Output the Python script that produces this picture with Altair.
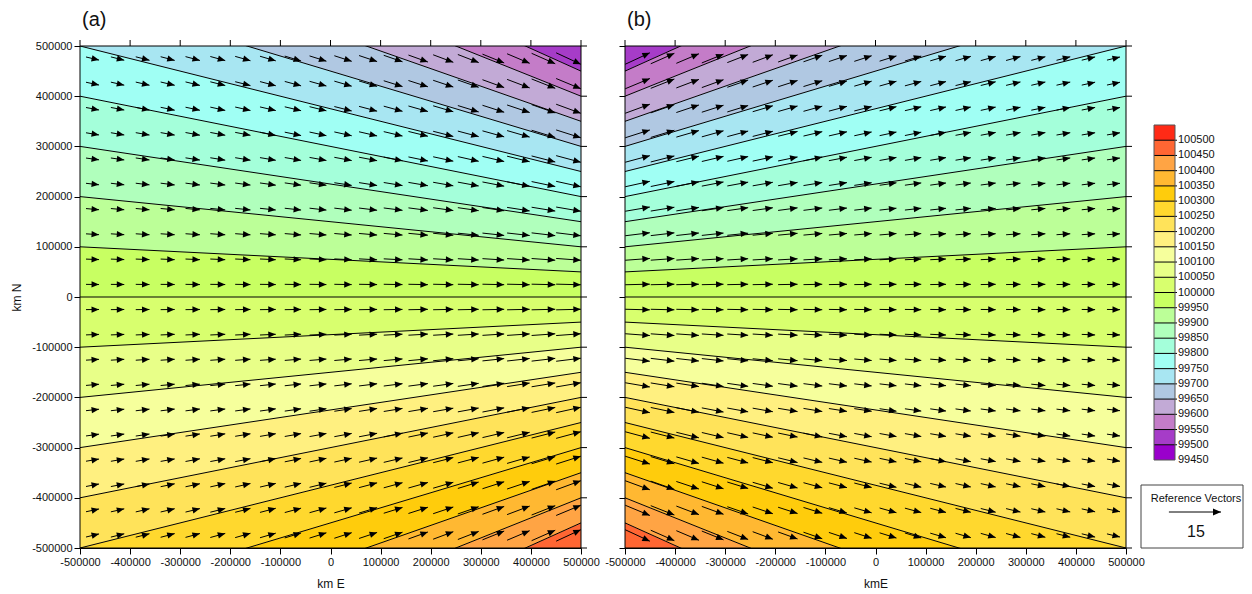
import math
import altair as alt
import pandas as pd

# ---------------- data ----------------
# contour levels (Pa), listed from the bottom line to the top line
contour_levels = [100500, 100450, 100400, 100350, 100300, 100250, 100200, 100150,
                  100100, 100050, 100000, 99950, 99900, 99850, 99800, 99750,
                  99700, 99650, 99600, 99550, 99500]
# y where each contour line meets the left / right edge in panel (a)
a_left_y = [-1000000, -900000, -800000, -700000, -600000, -500000, -400000,
            -300000, -200000, -100000, 0, 100000, 200000, 300000, 400000,
            500000, 600000, 700000, 800000, 900000, 1000000]
a_right_y = [-500000, -450000, -400000, -350000, -300000, -250000, -200000,
             -150000, -100000, -50000, 0, 50000, 100000, 150000, 200000,
             250000, 300000, 350000, 400000, 450000, 500000]
# panel (b) is the mirror image
b_left_y = [-500000, -450000, -400000, -350000, -300000, -250000, -200000,
            -150000, -100000, -50000, 0, 50000, 100000, 150000, 200000,
            250000, 300000, 350000, 400000, 450000, 500000]
b_right_y = [-1000000, -900000, -800000, -700000, -600000, -500000, -400000,
             -300000, -200000, -100000, 0, 100000, 200000, 300000, 400000,
             500000, 600000, 700000, 800000, 900000, 1000000]

# colour-bar classes (lower bound of each class) and colours
legend_bounds = [99450, 99500, 99550, 99600, 99650, 99700, 99750, 99800, 99850,
                 99900, 99950, 100000, 100050, 100100, 100150, 100200, 100250,
                 100300, 100350, 100400, 100450, 100500]
legend_colors = ["#9a00cc", "#a63cc8", "#c47cc8", "#c2aad6", "#b0c8e2", "#a8e6f2",
                 "#a0fff4", "#a4ffda", "#b0ffbc", "#bcff98", "#c8ff62", "#d8ff6e",
                 "#e8ff88", "#f6ff9c", "#fff080", "#ffe35a", "#ffd82e", "#ffcc0c",
                 "#ffb832", "#ffa444", "#ff6633", "#ff2a16"]

# wind-vector grid and eastward wind component per column (panel a)
grid_x = [-475000, -425000, -375000, -325000, -275000, -225000, -175000, -125000,
          -75000, -25000, 25000, 75000, 125000, 175000, 225000, 275000, 325000,
          375000, 425000, 475000]
grid_y = [-475000, -425000, -375000, -325000, -275000, -225000, -175000, -125000,
          -75000, -25000, 25000, 75000, 125000, 175000, 225000, 275000, 325000,
          375000, 425000, 475000]
u_a = [3.75, 3.85, 3.95, 4.05, 4.15, 4.3, 4.4, 4.55, 4.7, 4.85, 5.0, 5.2,
       5.4, 5.6, 5.8, 6.0, 6.25, 6.5, 6.8, 7.1]
u_b = [7.1, 6.8, 6.5, 6.25, 6.0, 5.8, 5.6, 5.4, 5.2, 5.0, 4.85, 4.7, 4.55,
       4.4, 4.3, 4.15, 4.05, 3.95, 3.85, 3.75]

ref_speed = 15
axis_ticks = [-500000, -400000, -300000, -200000, -100000, 0, 100000, 200000,
              300000, 400000, 500000]
panel_titles = ["(a)", "(b)"]
x_titles = ["km E", "kmE"]

# ---------------- geometry ----------------
W, H = 501, 502
XMIN, XMAX = -500000, 500000
M_PER_UNIT = 104000 / ref_speed  # data length of one wind unit
color_of = {str(b): c for b, c in zip(legend_bounds, legend_colors)}


def band_frame(left, right):
    rows = []
    for i in range(len(contour_levels) - 1):
        key = str(contour_levels[i + 1])
        rows.append({"band": key, "x": XMIN, "y": left[i], "y2": left[i + 1]})
        rows.append({"band": key, "x": XMAX, "y": right[i], "y2": right[i + 1]})
    return pd.DataFrame(rows)


def line_frame(left, right):
    rows = []
    for lv, l, r in zip(contour_levels, left, right):
        rows.append({"level": str(lv), "x": XMIN, "y": l})
        rows.append({"level": str(lv), "x": XMAX, "y": r})
    return pd.DataFrame(rows)


def slope_at(x, y, left, right):
    t = (x - XMIN) / (XMAX - XMIN)
    ys = [l + (r - l) * t for l, r in zip(left, right)]
    for i in range(len(ys) - 1):
        if ys[i] <= y <= ys[i + 1]:
            f = (y - ys[i]) / (ys[i + 1] - ys[i])
            s0 = (right[i] - left[i]) / (XMAX - XMIN)
            s1 = (right[i + 1] - left[i + 1]) / (XMAX - XMIN)
            return s0 * (1 - f) + s1 * f
    return 0.0


def arrow_frame(left, right, u_list):
    rows = []
    for gx, u in zip(grid_x, u_list):
        for gy in grid_y:
            v = u * slope_at(gx, gy, left, right)
            dx, dy = u * M_PER_UNIT, v * M_PER_UNIT
            ang = (-math.degrees(math.atan2(dy, dx))) % 360
            rows.append({"x0": gx - dx / 2, "y0": gy - dy / 2,
                         "x1": gx + dx / 2, "y1": gy + dy / 2, "ang": ang})
    return pd.DataFrame(rows)


HEAD = "M0,0L-2,-0.85L-2,0.85Z"
FONT = "Liberation Sans"
xscale = alt.Scale(domain=[XMIN, XMAX], nice=False, zero=False)
yscale = alt.Scale(domain=[XMIN, XMAX], nice=False, zero=False)


def panel(idx, left, right, u_list, show_y_labels):
    xaxis = alt.Axis(values=axis_ticks, labelExpr="'' + datum.value", title=x_titles[idx],
                     tickSize=6, labelPadding=2, titlePadding=11, grid=False,
                     domainColor="black", tickColor="black", labelColor="#111",
                     labelFontSize=11, titleFontSize=12, titleFontWeight="normal",
                     titleColor="#111", labelFlush=False, labelOverlap=False)
    if show_y_labels:
        yaxis = alt.Axis(values=axis_ticks, labelExpr="'' + datum.value", title="km N",
                         tickSize=6, labelPadding=2, titlePadding=8, grid=False,
                         domainColor="black", tickColor="black", labelColor="#111",
                         labelFontSize=11, titleFontSize=12, titleFontWeight="normal",
                         titleColor="#111", labelFlush=False, labelOverlap=False)
    else:
        yaxis = alt.Axis(values=axis_ticks, labels=False, title=None, tickSize=6,
                         grid=False, domainColor="black", tickColor="black")

    X = lambda f: alt.X(f, type="quantitative", scale=xscale, axis=xaxis)
    Y = lambda f: alt.Y(f, type="quantitative", scale=yscale, axis=yaxis)

    bands = alt.Chart(band_frame(left, right)).mark_area(clip=True, interpolate="linear").encode(
        x=X("x"), y=alt.Y("y", type="quantitative", scale=yscale, axis=yaxis, stack=None),
        y2="y2",
        color=alt.Color("band:N", scale=alt.Scale(domain=list(color_of.keys()),
                                                   range=list(color_of.values())), legend=None),
        detail="band:N",
    )
    lines = alt.Chart(line_frame(left, right)).mark_line(
        clip=True, color="black", strokeWidth=1).encode(
        x=X("x"), y=Y("y"), detail="level:N")

    arrows = arrow_frame(left, right, u_list)
    shafts = alt.Chart(arrows).mark_rule(color="black", strokeWidth=1).encode(
        x=X("x0"), y=Y("y0"), x2="x1", y2="y1")
    heads = alt.Chart(arrows).mark_point(shape=HEAD, filled=True, size=56, color="black",
                                         opacity=1, strokeWidth=0).encode(
        x=X("x1"), y=Y("y1"), angle=alt.Angle("ang:Q", scale=None))

    tickdf = pd.DataFrame({"t": axis_ticks})
    top_ticks = alt.Chart(tickdf).mark_rule(color="black", strokeWidth=1).encode(
        x=X("t"), y=alt.value(-6), y2=alt.value(0))
    right_ticks = alt.Chart(tickdf).mark_rule(color="black", strokeWidth=1).encode(
        y=Y("t"), x=alt.value(W), x2=alt.value(W + 6))
    frame = alt.Chart(pd.DataFrame({"k": [0]})).mark_rect(
        fillOpacity=0, stroke="black", strokeWidth=1).encode(
        x=alt.value(0), x2=alt.value(W), y=alt.value(0), y2=alt.value(H))
    # invisible spacer that fixes the top edge of the drawing
    spacer = alt.Chart(pd.DataFrame({"k": [0]})).mark_rule(strokeOpacity=0, strokeWidth=1).encode(
        x=alt.value(0), x2=alt.value(10), y=alt.value(-37.5), y2=alt.value(-37.5))
    title = alt.Chart(pd.DataFrame({"t": [panel_titles[idx]]})).mark_text(
        align="left", baseline="alphabetic", fontSize=20, font=FONT, color="#111").encode(
        x=alt.value(2), y=alt.value(-20), text="t:N")

    return alt.layer(bands, lines, shafts, heads, top_ticks, right_ticks, frame, spacer,
                     title).properties(width=W, height=H)


pa = panel(0, a_left_y, a_right_y, u_a, True)
pb = panel(1, b_left_y, b_right_y, u_b, False)

# ---------------- legend ----------------
LW = 73
leg_df = pd.DataFrame({"lo": legend_bounds,
                       "hi": legend_bounds[1:] + [legend_bounds[-1] + 50],
                       "col": legend_colors,
                       "label": [str(b) for b in legend_bounds]})
lscale = alt.Scale(domain=[legend_bounds[0], legend_bounds[-1] + 50], range=[414, 79],
                   nice=False, zero=False)
boxes = alt.Chart(leg_df).mark_rect().encode(
    x=alt.value(-16), x2=alt.value(5),
    y=alt.Y("lo:Q", scale=lscale, axis=None), y2="hi:Q",
    color=alt.Color("col:N", scale=None))
seps = alt.Chart(leg_df[leg_df["lo"] > legend_bounds[0]]).mark_rule(
    color="black", strokeWidth=1).encode(
    x=alt.value(-16), x2=alt.value(7), y=alt.Y("lo:Q", scale=lscale, axis=None))
outline = alt.Chart(pd.DataFrame({"lo": [legend_bounds[0]], "hi": [legend_bounds[-1] + 50]})).mark_rect(
    fillOpacity=0, stroke="#555", strokeWidth=1).encode(
    x=alt.value(-16), x2=alt.value(5),
    y=alt.Y("lo:Q", scale=lscale, axis=None), y2="hi:Q")
labels = alt.Chart(leg_df).mark_text(align="left", baseline="middle", fontSize=11,
                                     font=FONT, color="#111").encode(
    x=alt.value(8), y=alt.Y("lo:Q", scale=lscale, axis=None), text="label:N")

one = pd.DataFrame({"t": ["Reference Vectors"], "s": [str(ref_speed)]})
refbox = alt.Chart(one).mark_rect(fill="white", stroke="#444", strokeWidth=1).encode(
    x=alt.value(-29), x2=alt.value(LW), y=alt.value(439), y2=alt.value(502))
reftxt = alt.Chart(one).mark_text(align="center", baseline="middle", fontSize=11,
                                  font=FONT, color="#111").encode(
    x=alt.value(26), y=alt.value(453), text="t:N")
refnum = alt.Chart(one).mark_text(align="center", baseline="middle", fontSize=16,
                                  font=FONT, color="#111").encode(
    x=alt.value(26), y=alt.value(486), text="s:N")
ref_px = ref_speed * M_PER_UNIT * W / (XMAX - XMIN)
refshaft = alt.Chart(one).mark_rule(color="black", strokeWidth=1).encode(
    x=alt.value(51 - ref_px), x2=alt.value(51), y=alt.value(466))
refhead = alt.Chart(one).mark_point(shape=HEAD, filled=True, size=64, color="black",
                                    opacity=1, strokeWidth=0).encode(
    x=alt.value(51), y=alt.value(466))

legend = alt.layer(boxes, seps, outline, labels, refbox, reftxt, refnum, refshaft, refhead).properties(
    width=LW, height=H)

chart = alt.hconcat(pa, pb, legend, spacing=44, bounds="flush").properties(
    padding={"left": 2, "top": 0, "right": 0, "bottom": 0}
).configure(font=FONT).configure_view(stroke=None)

chart.save("out.html", embed_options={"renderer": "svg", "actions": False})
